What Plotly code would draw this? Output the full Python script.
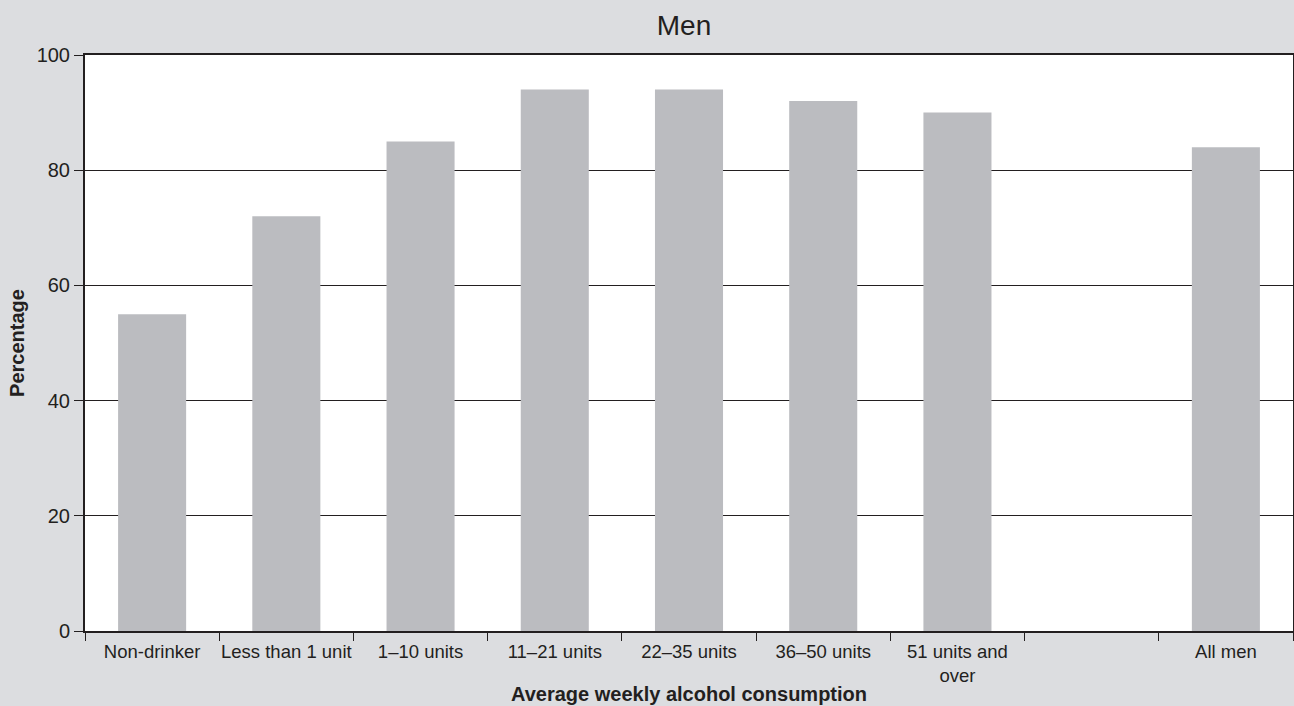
import plotly.graph_objects as go

categories = ["Non-drinker", "Less than 1 unit", "1–10 units", "11–21 units", "22–35 units",
              "36–50 units", "51 units and<br>over", " ", "All men"]
values = [55, 72, 85, 94, 94, 92, 90, None, 84]
y_ticks = [0, 20, 40, 60, 80, 100]

TEXT = "#231f20"

fig = go.Figure(go.Bar(x=categories, y=values, marker=dict(color="#bbbcc0", line=dict(width=0)),
                       width=0.507))

fig.update_layout(
    width=1294, height=706,
    paper_bgcolor="#dcdde0", plot_bgcolor="#ffffff",
    margin=dict(l=85, r=1, t=55, b=75),
    font=dict(family="Liberation Sans, Arial, sans-serif", color=TEXT, size=18),
    title=dict(text="Men", x=0.5 - 5 / 1208, xref="paper", xanchor="center", y=1 - 25 / 706,
               yanchor="middle", font=dict(size=28, color=TEXT)),
    showlegend=False,
)
fig.update_xaxes(
    type="category", tickson="boundaries", ticks="outside", ticklen=8, tickcolor=TEXT,
    showline=True, linecolor=TEXT, linewidth=2, mirror=True, showgrid=False,
    tickfont=dict(size=18.5), tickangle=0, automargin=False, ticklabelstandoff=3,
    title=dict(text="<b>Average weekly alcohol consumption</b>", font=dict(size=20), standoff=2),
)
fig.update_yaxes(
    range=[0, 100], tickvals=y_ticks, ticks="outside", ticklen=9, tickcolor=TEXT,
    showline=True, linecolor=TEXT, linewidth=2, mirror=True,
    showgrid=True, gridcolor=TEXT, gridwidth=1, zeroline=False,
    tickfont=dict(size=20), automargin=False,
    title=dict(text="<b>Percentage</b>", font=dict(size=20), standoff=7),
)

fig.write_html("out.html", config={"displayModeBar": False},
               post_script="document.body.style.margin='0';")
